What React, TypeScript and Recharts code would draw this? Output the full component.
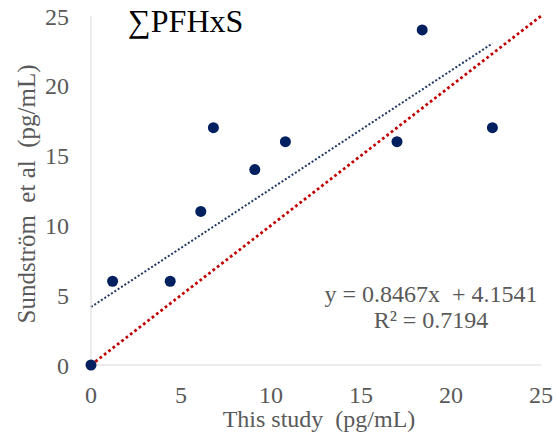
import React from 'react';
import {
  ScatterChart,
  Scatter,
  XAxis,
  YAxis,
  ReferenceLine,
} from 'recharts';

// Paired values: this study (x) vs Sundström et al (y), pg/mL
const thisStudy = [0, 1.2, 4.4, 6.1, 6.8, 9.1, 10.8, 17.0, 18.4, 22.3];
const sundstrom = [0, 6, 6, 11, 17, 14, 16, 16, 24, 17];

const axisTicks = [0, 5, 10, 15, 20, 25];

// Excel linear trendline shown on the chart
const slope = 0.8467;
const intercept = 4.1541;
const rSquared = 0.7194;

const points = thisStudy.map((x, i) => ({ x, y: sundstrom[i] }));
const xMax = Math.max(...thisStudy);

const FONT = '"Liberation Serif", "Times New Roman", serif';
const GREY = '#595959';

const Dot = (props: any) => (
  <circle cx={props.cx} cy={props.cy} r={5.5} fill="#002060" />
);

export default function App() {
  return (
    <div style={{ position: 'absolute', left: 0, top: 0, width: 556, height: 446, background: '#fff' }}>
      <ScatterChart
        width={556}
        height={446}
        margin={{ top: 16, right: 15, bottom: 0, left: 0 }}
      >
        <XAxis
          type="number"
          dataKey="x"
          domain={[0, 25]}
          ticks={axisTicks}
          height={81}
          tickLine={false}
          tickMargin={15}
          axisLine={{ stroke: '#d9d9d9' }}
          tick={{ fill: GREY, fontSize: 24, fontFamily: FONT }}
        />
        <YAxis
          type="number"
          dataKey="y"
          domain={[0, 25]}
          ticks={axisTicks}
          width={91}
          tickLine={false}
          tickMargin={16}
          axisLine={{ stroke: '#d9d9d9' }}
          tick={{ fill: GREY, fontSize: 24, fontFamily: FONT }}
        />
        <ReferenceLine
          segment={[{ x: 0, y: 0 }, { x: 25, y: 25 }]}
          stroke="#C00000"
          strokeWidth={2.75}
          strokeDasharray="2.75 2.75"
        />
        <ReferenceLine
          segment={[
            { x: 0, y: intercept },
            { x: xMax, y: slope * xMax + intercept },
          ]}
          stroke="#203864"
          strokeWidth={2}
          strokeDasharray="2 2"
        />
        <Scatter data={points} shape={Dot} isAnimationActive={false} />

        <text x={128} y={32} fontFamily={FONT} fontSize={32} fill="#000">
          ∑PFHxS
        </text>
        <text
          x={431}
          y={302}
          textAnchor="middle"
          fontFamily={FONT}
          fontSize={24}
          fill={GREY}
          style={{ whiteSpace: 'pre' }}
        >
          {`y = ${slope}x  + ${intercept}`}
        </text>
        <text x={431} y={328} textAnchor="middle" fontFamily={FONT} fontSize={24} fill={GREY}>
          {`R² = ${rSquared}`}
        </text>
        <text
          x={319}
          y={427}
          textAnchor="middle"
          fontFamily={FONT}
          fontSize={24}
          fill={GREY}
          style={{ whiteSpace: 'pre' }}
        >
          {'This study  (pg/mL)'}
        </text>
        <text
          x={35}
          y={194}
          textAnchor="middle"
          transform="rotate(-90 35 194)"
          fontFamily={FONT}
          fontSize={25}
          fill={GREY}
          style={{ whiteSpace: 'pre' }}
        >
          {'Sundström  et al  (pg/mL)'}
        </text>
      </ScatterChart>
    </div>
  );
}
